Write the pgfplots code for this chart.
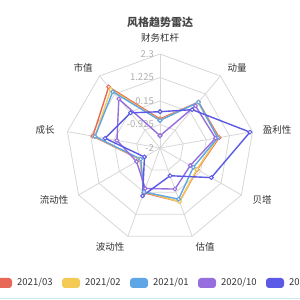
\documentclass[border=0pt]{standalone}
\usepackage{pgfplots}
\usepackage{pgfplotstable}
\pgfplotsset{compat=1.18}
\usepackage{fontspec}
\setmainfont{Noto Sans CJK SC}
\definecolor{cR}{RGB}{232,104,88}
\definecolor{cY}{RGB}{242,202,84}
\definecolor{cB}{RGB}{94,166,230}
\definecolor{cP}{RGB}{150,110,222}
\definecolor{cD}{RGB}{90,90,230}
\definecolor{gridc}{RGB}{215,215,215}
\definecolor{tickc}{RGB}{175,175,175}
\definecolor{namec}{RGB}{51,51,51}
\definecolor{titlec}{RGB}{70,70,70}
% columns: angle, 2021/03, 2021/02, 2021/01, 2020/10, 2020/07
\pgfplotstableread{
a    r     y     b     p     d
90  -0.67 -0.72 -0.74 -1.44 -0.34
50   0.74  0.72  0.74  0.52  0.29
10   0.75  0.70  0.68  0.58  2.18
-30 -0.03 -0.05 -0.24 -0.40  0.71
-70  0.61  0.61  0.49  0.00 -0.65
-110 0.18  0.14  0.14 -0.03  0.33
-150 -0.95 -0.95 -0.98 -0.76 -1.18
170  1.12  1.02  1.02  0.00  0.55
130  1.65  1.50  1.36  0.93  0.10
90  -0.67 -0.72 -0.74 -1.44 -0.34
}\data
\pgfplotsset{
  ser/.style={line width=1.4bp, mark=*, mark size=1.9bp,
    mark options={fill=white, line width=1bp, solid}},
}
\begin{document}
\begin{tikzpicture}
\begin{axis}[name=ax, x=1bp, y=1bp, xmin=-160, xmax=140, ymin=-152, ymax=148,
  axis lines=none, clip mode=global]
% grid rings
\pgfplotsinvokeforeach{23.5,47,70.5,94}{
  \draw[gridc, line width=0.8bp, shift={(axis cs:0,0)}] (90:#1bp)
    foreach \a in {50,10,-30,-70,-110,-150,170,130}{ -- (\a:#1bp)} -- cycle;
}
% spokes
\pgfplotsinvokeforeach{90,50,10,-30,-70,-110,-150,170,130}{
  \draw[gridc, line width=0.8bp] (axis cs:0,0) -- ++(#1:94bp);
}
% tick labels
\foreach \yy/\tt in {0/-2, 23.5/-0.925, 47/0.15, 70.5/1.225, 94/2.3}{
  \edef\tmp{\noexpand\node[anchor=east, text=tickc, font=\noexpand\fontsize{9.5bp}{10bp}\noexpand\selectfont, inner sep=0pt] at (axis cs:-6,\yy) {\tt};}
  \tmp
}
% series
\addplot[ser, color=cR] table[x expr={(\thisrow{r}+2)*21.86*cos(\thisrow{a})}, y expr={(\thisrow{r}+2)*21.86*sin(\thisrow{a})}] {\data};
\addplot[ser, color=cY] table[x expr={(\thisrow{y}+2)*21.86*cos(\thisrow{a})}, y expr={(\thisrow{y}+2)*21.86*sin(\thisrow{a})}] {\data};
\addplot[ser, color=cB] table[x expr={(\thisrow{b}+2)*21.86*cos(\thisrow{a})}, y expr={(\thisrow{b}+2)*21.86*sin(\thisrow{a})}] {\data};
\addplot[ser, color=cP] table[x expr={(\thisrow{p}+2)*21.86*cos(\thisrow{a})}, y expr={(\thisrow{p}+2)*21.86*sin(\thisrow{a})}] {\data};
\addplot[ser, color=cD] table[x expr={(\thisrow{d}+2)*21.86*cos(\thisrow{a})}, y expr={(\thisrow{d}+2)*21.86*sin(\thisrow{a})}] {\data};
% indicator names
\begin{scope}[every node/.style={text=namec, font=\fontsize{9.5bp}{10bp}\selectfont, inner sep=0pt}]
\node at (axis cs:0,110) {财务杠杆};
\node at (axis cs:77,80) {动量};
\node at (axis cs:117,18) {盈利性};
\node at (axis cs:102,-52) {贝塔};
\node at (axis cs:45,-99) {估值};
\node at (axis cs:-50,-99) {波动性};
\node at (axis cs:-106,-52) {流动性};
\node at (axis cs:-115,18) {成长};
\node at (axis cs:-77,80) {市值};
\end{scope}
% title
\node[text=titlec, font=\fontsize{11bp}{12bp}\selectfont\bfseries, inner sep=0pt] at (axis cs:0,126) {风格趋势雷达};
% legend
\foreach \i/\c/\lab in {0/cR/2021\slash 03, 1/cY/2021\slash 02, 2/cB/2021\slash 01, 3/cP/2020\slash 10, 4/cD/2020\slash 07}{
  \pgfmathsetmacro\xa{-166+68*\i}
  \pgfmathsetmacro\xb{-148+68*\i}
  \pgfmathsetmacro\xt{-143+68*\i}
  \edef\tmp{\noexpand\fill[\c, rounded corners=3bp] (axis cs:\xa,-140) rectangle (axis cs:\xb,-130);
  \noexpand\node[anchor=west, text=namec, inner sep=0pt, font=\noexpand\fontsize{9.5bp}{10bp}\noexpand\selectfont] at (axis cs:\xt,-135) {\lab};}
  \tmp
}
\draw[color={rgb,255:red,200;green,232;blue,232}, line width=1bp] (axis cs:-160,-150.5) -- (axis cs:140,-150.5);
\end{axis}
\pgfresetboundingbox
\useasboundingbox (ax.south west) rectangle (ax.north east);
\end{tikzpicture}
\end{document}
